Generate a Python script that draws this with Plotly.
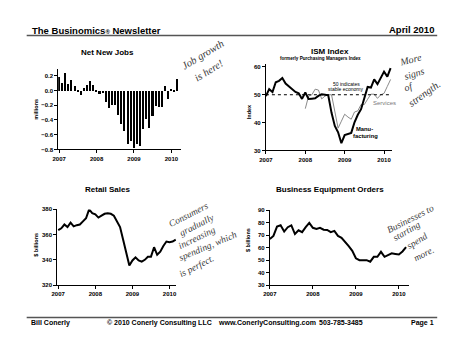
import plotly.graph_objects as go

W, H = 450, 348

# ---- data (monthly, Jan 2007 - Mar 2010) ----
jobs_millions = [0.18, 0.10, 0.24, 0.09, 0.15, 0.06, -0.01, -0.06, 0.04, 0.08, 0.13, 0.07,
                 -0.01, -0.04, -0.03, -0.15, -0.23, -0.19, -0.20, -0.33, -0.45, -0.55, -0.72, -0.68,
                 -0.78, -0.73, -0.75, -0.52, -0.38, -0.51, -0.34, -0.21, -0.22, -0.22, 0.06, -0.11,
                 0.01, -0.01, 0.16]
ism_manufacturing = [49.5, 52.0, 51.0, 54.5, 55.0, 56.0, 54.0, 53.0, 52.0, 51.0, 50.5, 48.5,
                     50.8, 48.5, 48.6, 48.7, 49.6, 50.2, 50.0, 49.8, 43.5, 38.8, 36.5, 32.6,
                     35.5, 35.8, 36.3, 40.1, 42.8, 44.8, 48.9, 52.8, 52.6, 55.5, 53.8, 55.8,
                     58.3, 56.5, 59.6]
# services series begins Jan 2008
ism_services = [45.0, 49.5, 50.0, 52.0, 51.7, 48.5, 49.5, 50.0, 50.0, 44.5, 38.0, 40.5,
                43.0, 42.0, 41.2, 43.8, 44.2, 46.5, 46.5, 48.4, 50.2, 50.2, 48.7, 50.0,
                50.5, 53.0, 55.5]
retail_sales = [363.5, 365, 368, 366, 369.5, 366.5, 367.5, 368, 370.5, 373, 380, 377,
                376, 373.5, 375, 376.5, 377, 376.5, 375, 371, 366, 356, 345, 335.5,
                339.5, 342, 339.5, 338.5, 340, 342.5, 342.5, 350, 344, 346.5, 351, 354.5,
                354, 354.5, 356]
equipment_orders = [67, 69.5, 77, 78, 73, 76.5, 78, 71, 74, 72.5, 76.5, 80,
                    76, 75, 76, 74.5, 74.3, 72.5, 73.5, 69.5, 68, 65, 61.3, 57.5,
                    51.5, 50, 50, 50, 48.8, 52.7, 52.7, 56.7, 52.7, 54, 55.5, 55,
                    54.5, 57, 60.5]
year_ticks = [2007, 2008, 2009, 2010]
year_labels = ["2007", "2008", "2009", "2010"]

t_all = [2007 + i / 12 for i in range(len(jobs_millions))]
t_services = [2008 + i / 12 for i in range(len(ism_services))]


def px_x(p):
    return p / W


def px_y(p):
    return 1 - p / H


SANS = "Liberation Sans, Arial, sans-serif"
INK = "#3c3c3c"
tick_font = dict(family=SANS, size=6, color="black", weight="bold")


def xaxis_cfg(left, right, rng, anchor):
    return dict(domain=[px_x(left), px_x(right)], range=rng, anchor=anchor,
                tickvals=year_ticks, ticktext=year_labels, tickfont=tick_font,
                showline=True, linecolor="black", linewidth=1, ticks="outside",
                ticklen=3, tickwidth=1, tickcolor="black", showgrid=False,
                zeroline=False, fixedrange=True)


def yaxis_cfg(bottom, top, rng, anchor, dtick, fmt=None):
    d = dict(domain=[px_y(bottom), px_y(top)], range=rng, anchor=anchor,
             dtick=dtick, tick0=rng[0], tickfont=tick_font, showline=True,
             linecolor="black", linewidth=1, ticks="outside", ticklen=3,
             tickwidth=1, tickcolor="black", showgrid=False, zeroline=False,
             fixedrange=True)
    if fmt:
        d["tickformat"] = fmt
    return d


fig = go.Figure()

# Net New Jobs
fig.add_trace(go.Bar(x=t_all, y=jobs_millions, width=0.055, marker_color="black",
                     marker_line_width=0, xaxis="x", yaxis="y"))
# ISM index
fig.add_trace(go.Scatter(x=t_services, y=ism_services, mode="lines",
                         line=dict(color="#8a8a8a", width=1), xaxis="x2", yaxis="y2"))
fig.add_trace(go.Scatter(x=t_all, y=ism_manufacturing, mode="lines",
                         line=dict(color="black", width=2), xaxis="x2", yaxis="y2"))
# Retail sales
fig.add_trace(go.Scatter(x=t_all, y=retail_sales, mode="lines",
                         line=dict(color="black", width=2), xaxis="x3", yaxis="y3"))
# Business equipment orders
fig.add_trace(go.Scatter(x=t_all, y=equipment_orders, mode="lines",
                         line=dict(color="black", width=2), xaxis="x4", yaxis="y4"))

fig.update_layout(
    width=W, height=H, margin=dict(l=0, r=0, t=0, b=0),
    paper_bgcolor="white", plot_bgcolor="white", showlegend=False,
    bargap=0,
    xaxis=xaxis_cfg(52, 177, [2006.974, 2010.263], "y"),
    yaxis=yaxis_cfg(149, 67, [-0.8, 0.293], "x", 0.2, ".1f"),
    xaxis2=xaxis_cfg(263, 391, [2007.0, 2010.2], "y2"),
    yaxis2=yaxis_cfg(150, 62.2, [30, 61], "x2", 10),
    xaxis3=xaxis_cfg(51, 172, [2006.973, 2010.183], "y3"),
    yaxis3=yaxis_cfg(287, 210, [320, 380], "x3", 20),
    xaxis4=xaxis_cfg(267, 408, [2007.0, 2010.227], "y4"),
    yaxis4=yaxis_cfg(287, 211, [30, 90], "x4", 10),
)

# dotted reference line at 50 on the ISM chart
fig.add_shape(type="line", xref="x2", yref="y2", x0=2007, x1=2010.2, y0=50, y1=50,
              line=dict(color="black", width=1, dash="dot"))

# header and footer rules
fig.add_shape(type="line", xref="paper", yref="paper", x0=px_x(20), x1=px_x(437),
              y0=px_y(33), y1=px_y(33), line=dict(color="#555", width=1.5))
fig.add_shape(type="line", xref="paper", yref="paper", x0=px_x(20), x1=px_x(437),
              y0=px_y(320), y1=px_y(320), line=dict(color="#555", width=1.5))


def text(x, y, s, size, anchor="center", bold=True, color="black", family=SANS,
         angle=0):
    fig.add_annotation(xref="paper", yref="paper", x=px_x(x), y=px_y(y), text=s,
                       showarrow=False, xanchor=anchor, yanchor="middle",
                       textangle=angle,
                       font=dict(family=family, size=size, color=color,
                                 weight="bold" if bold else "normal"))


# header
text(23, 27.5, "The Businomics<span style='font-size:6px'>®</span> Newsletter", 9.5, "left")
text(436, 27, "April 2010", 9.5, "right")

# footer
text(22.5, 325.5, "Bill Conerly", 7, "left")
text(100, 325.5, "© 2010 Conerly Consulting LLC", 7, "left")
text(212, 325.5, "www.ConerlyConsulting.com", 7, "left")
text(315, 325.5, "503-785-3485", 7, "left")
text(436, 325.5, "Page 1", 7, "right")

# chart titles
text(102.5, 50, "Net New Jobs", 8)
text(328, 49.5, "ISM Index", 8)
text(318, 56.5, "formerly Purchasing Managers Index", 4.6)
text(102, 189.5, "Retail Sales", 8)
text(328, 189.5, "Business Equipment Orders", 8)

# axis titles
text(29.5, 108.5, "millions", 5.5, angle=-90)
text(246, 111, "Index", 5.5, angle=-90)
text(30, 246.5, "$ billions", 5.5, angle=-90)
text(245.5, 241.5, "$ billions", 5.5, angle=-90)

# ISM chart labels
text(344.5, 82, "50 indicates", 5, bold=False)
text(344, 87, "stable economy", 5, bold=False)
text(383, 102, "Services", 6, bold=False, color="#7a7a7a")
text(363, 128.5, "Manu-", 5.8)
text(364, 135.5, "facturing", 5.8)

# handwritten notes
HAND = "Liberation Serif, serif"


def note(x, y, s, size, angle):
    fig.add_annotation(xref="paper", yref="paper", x=px_x(x), y=px_y(y),
                       text="<i>" + s + "</i>", showarrow=False, xanchor="center",
                       yanchor="middle", textangle=angle,
                       font=dict(family=HAND, size=size, color=INK))


note(199, 52, "Job growth", 10.5, -31)
note(205, 68.5, "is here!", 10.5, -32)

note(410, 57, "More", 10, -14)
note(414, 72, "signs", 10, -18)
note(408, 85, "of", 10, -20)
note(424, 92, "strength.", 10.5, -36)

note(184, 215.5, "Consumers", 9.5, -27)
note(193, 225.5, "gradually", 9.5, -27)
note(192.5, 239, "increasing", 9.5, -26)
note(204.5, 247.5, "spending, which", 9.5, -23)
note(193, 268, "is perfect.", 9.5, -27)

note(410, 220, "Businesses to", 9.5, -27)
note(406.5, 232.5, "starting", 9.5, -30)
note(416.5, 242, "spend", 9.5, -32)
note(423.5, 255, "more.", 9.5, -27)

fig.write_html("out.html")
